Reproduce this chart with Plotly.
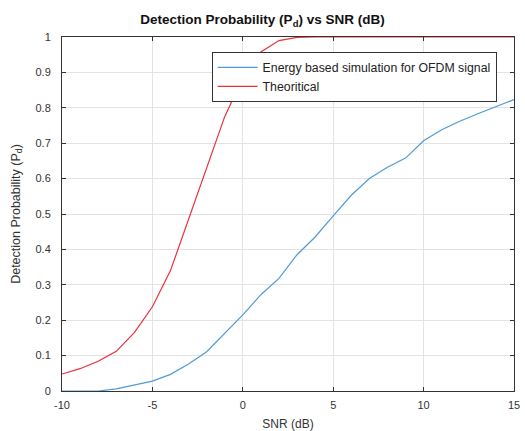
import plotly.graph_objects as go

snr_db = [-10, -9, -8, -7, -6, -5, -4, -3, -2, -1, 0, 1, 2, 3, 4, 5, 6, 7, 8, 9, 10, 11, 12, 13, 14, 15]
pd_simulation = [0.0, 0.0, 0.0, 0.006, 0.016, 0.028, 0.047, 0.076, 0.111, 0.162, 0.215, 0.272, 0.318, 0.385, 0.435, 0.495, 0.553, 0.600, 0.632, 0.658, 0.707, 0.738, 0.762, 0.783, 0.803, 0.823]
pd_theoretical = [0.048, 0.063, 0.084, 0.112, 0.165, 0.238, 0.340, 0.485, 0.630, 0.775, 0.885, 0.958, 0.990, 0.999, 1.0, 1.0, 1.0, 1.0, 1.0, 1.0, 1.0, 1.0, 1.0, 1.0, 1.0, 1.0]

x_ticks = [-10, -5, 0, 5, 10, 15]
x_tick_text = ["-10", "-5", "0", "5", "10", "15"]
y_ticks = [0, 0.1, 0.2, 0.3, 0.4, 0.5, 0.6, 0.7, 0.8, 0.9, 1]
y_tick_text = ["0", "0.1", "0.2", "0.3", "0.4", "0.5", "0.6", "0.7", "0.8", "0.9", "1"]

FONT = "Liberation Sans, Arial, sans-serif"

fig = go.Figure()
fig.add_trace(go.Scatter(x=snr_db, y=pd_simulation, mode="lines",
                         name="Energy based simulation for OFDM signal",
                         line=dict(color="#4f9bd4", width=1.2)))
fig.add_trace(go.Scatter(x=snr_db, y=pd_theoretical, mode="lines",
                         name="Theoritical",
                         line=dict(color="#e8303a", width=1.2)))

axis_common = dict(showline=True, linecolor="#333333", linewidth=1, mirror="ticks",
                   ticks="inside", ticklen=4, tickcolor="#333333",
                   showgrid=True, gridcolor="#e3e3e3", gridwidth=1, zeroline=False,
                   ticklabeloverflow="allow", automargin=False,
                   tickfont=dict(family=FONT, size=11, color="#333333"))

fig.update_xaxes(range=[-10, 15], tickvals=x_ticks, ticktext=x_tick_text,
                 ticklabelstandoff=4,
                 title=dict(text="SNR (dB)", font=dict(family=FONT, size=12, color="#333333"), standoff=14),
                 **axis_common)
fig.update_yaxes(range=[0, 1], tickvals=y_ticks, ticktext=y_tick_text,
                 ticklabelstandoff=8,
                 title=dict(text="Detection Probability (P<sub>d</sub>)", font=dict(family=FONT, size=12.5, color="#333333"), standoff=12),
                 **axis_common)

fig.update_layout(
    width=525, height=431,
    margin=dict(l=62, r=11, t=37, b=40),
    paper_bgcolor="white", plot_bgcolor="white",
    title=dict(text="<b>Detection Probability (P<sub>d</sub>) vs SNR (dB)</b>",
               x=0.5, xanchor="center", y=0.955, yanchor="middle",
               font=dict(family=FONT, size=13.5, color="#111111")),
    legend=dict(x=0.331, y=0.958, xanchor="left", yanchor="top",
                bgcolor="white", bordercolor="#333333", borderwidth=1,
                font=dict(family=FONT, size=12.3, color="#222222"),
                tracegroupgap=0, itemwidth=40),
    showlegend=True,
)

fig.write_html("out.html", config={"displayModeBar": False},
               post_script="document.body.style.margin='0px';document.body.style.overflow='hidden';")
